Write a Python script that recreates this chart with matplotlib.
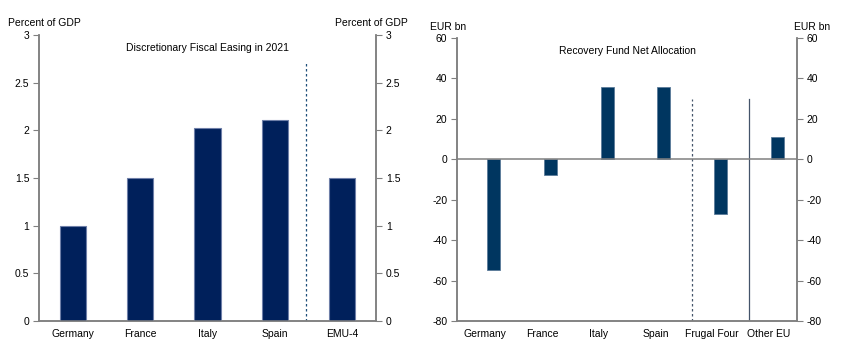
import matplotlib
matplotlib.use("Agg")
import matplotlib.pyplot as plt
import numpy as np

plt.rcParams['font.family'] = ['Liberation Sans', 'DejaVu Sans']

left_cats = ["Germany", "France", "Italy", "Spain", "EMU-4"]
left_vals = [1.0, 1.5, 2.02, 2.11, 1.5]
left_yticks = [0, 0.5, 1, 1.5, 2, 2.5, 3]
left_ylabels = ["0", "0.5", "1", "1.5", "2", "2.5", "3"]

right_cats = ["Germany", "France", "Italy", "Spain", "Frugal Four", "Other EU"]
right_vals = [-55, -8, 36, 36, -27, 11]
right_yticks = [-80, -60, -40, -20, 0, 20, 40, 60]
right_ylabels = ["-80", "-60", "-40", "-20", "0", "20", "40", "60"]

W, H = 850, 362
fig = plt.figure(figsize=(W / 100, H / 100), dpi=100)
FS = 7.5
gray = "#808080"

def style(ax, ax2):
    for a in (ax, ax2):
        for s in a.spines.values():
            s.set_color(gray)
            s.set_linewidth(1.1)
        a.spines['top'].set_visible(False)
    ax.tick_params(axis='y', direction='out', length=4, color=gray, labelsize=FS, pad=3)
    ax.tick_params(axis='x', length=0, labelsize=FS, pad=6)
    ax2.tick_params(axis='y', direction='out', length=4, color=gray, labelsize=FS, pad=3)

# Left panel
ax1 = fig.add_axes([39 / W, 1 - 321 / H, (376 - 39) / W, (321 - 35) / H])
x1 = np.arange(len(left_cats))
ax1.bar(x1, left_vals, width=0.39, color="#00205B", edgecolor="#6E7FA8", linewidth=0.8, zorder=3)
ax1.set_xlim(-0.5, len(left_cats) - 0.5)
ax1.set_ylim(0, 3)
ax1.set_yticks(left_yticks)
ax1.set_yticklabels(left_ylabels)
ax1.set_xticks(x1)
ax1.set_xticklabels(left_cats)
ax1.plot([3.46, 3.46], [0, 2.73], linestyle=(0, (2, 2)), color="#1F4E79", linewidth=0.9)
ax1.text(0.5, 0.955, "Discretionary Fiscal Easing in 2021", transform=ax1.transAxes,
         ha='center', va='center', fontsize=FS)
ax1b = ax1.twinx()
ax1b.set_ylim(0, 3)
ax1b.set_yticks(left_yticks)
ax1b.set_yticklabels(left_ylabels)
style(ax1, ax1b)
fig.text(8 / W, 1 - 23 / H, "Percent of GDP", ha='left', va='center', fontsize=FS)
fig.text(408 / W, 1 - 23 / H, "Percent of GDP", ha='right', va='center', fontsize=FS)

# Right panel
ax2 = fig.add_axes([457 / W, 1 - 321 / H, (797 - 457) / W, (321 - 38) / H])
x2 = np.arange(len(right_cats))
off = 0.15
ax2.bar(x2 + off, right_vals, width=0.23, color="#003660", edgecolor="#5B7A99", linewidth=0.6, zorder=3)
ax2.set_xlim(-0.5, len(right_cats) - 0.5)
ax2.set_ylim(-80, 60)
ax2.set_yticks(right_yticks)
ax2.set_yticklabels(right_ylabels)
ax2.set_xticks(x2)
ax2.set_xticklabels(right_cats)
ax2.axhline(0, color=gray, linewidth=1.1, zorder=4)
ax2.plot([3.5 + off, 3.5 + off], [-80, 30], linestyle=(0, (2, 2)), color="#44546A", linewidth=0.9)
ax2.plot([4.5 + off, 4.5 + off], [-80, 30], linestyle='-', color="#44546A", linewidth=0.9)
ax2.text(0.5, 0.955, "Recovery Fund Net Allocation", transform=ax2.transAxes,
         ha='center', va='center', fontsize=FS)
ax2b = ax2.twinx()
ax2b.set_ylim(-80, 60)
ax2b.set_yticks(right_yticks)
ax2b.set_yticklabels(right_ylabels)
style(ax2, ax2b)
fig.text(430 / W, 1 - 27 / H, "EUR bn", ha='left', va='center', fontsize=FS)
fig.text(830 / W, 1 - 27 / H, "EUR bn", ha='right', va='center', fontsize=FS)

fig.savefig("out.png", dpi=100)
